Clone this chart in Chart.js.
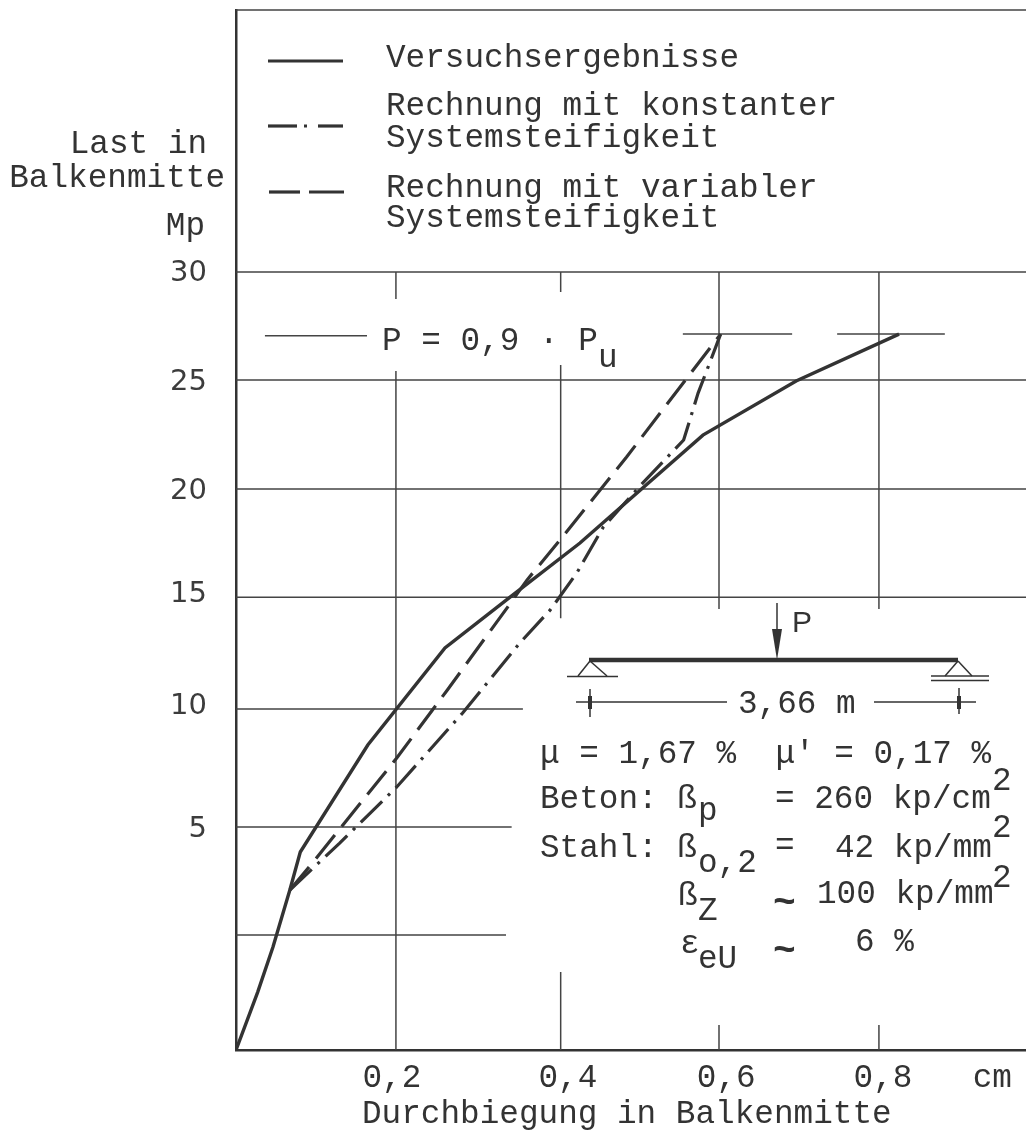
<!DOCTYPE html>
<html>
<head>
<meta charset="utf-8">
<style>html,body{margin:0;padding:0;background:#fff}canvas{display:block}</style>
<script src="https://cdn.jsdelivr.net/npm/chart.js@4/dist/chart.umd.js"></script>
</head>
<body>
<canvas id="c" width="1026" height="1134"></canvas>
<script>
// Measured curves: deflection (cm), load on the axis scale (Mp)
const testX = [0, 0.027, 0.046, 0.067, 0.080, 0.164, 0.260, 0.341, 0.428, 0.581, 0.697, 0.825];
const testY = [-5.2, -2.58, -0.54, 2.04, 3.76, 8.60, 12.99, 15.29, 17.74, 22.62, 25.07, 27.19];
const constX = [0.067, 0.129, 0.200, 0.282, 0.353, 0.391, 0.424, 0.457, 0.506, 0.557, 0.575, 0.597, 0.603];
const constY = [2.04, 4.16, 6.70, 10.05, 13.21, 14.71, 16.38, 18.46, 20.45, 22.40, 24.52, 26.61, 27.19];
const varX = [0.067, 0.095, 0.200, 0.263, 0.338, 0.362, 0.403, 0.486, 0.603];
const varY = [2.04, 3.26, 8.01, 11.09, 14.84, 16.06, 17.87, 21.63, 27.19];

// Axis ranges and labels
const xRange = [0, 0.983];
const yRange = [-5.2, 41.855];
const yTickValues = [4.80, 10.36, 15.43, 20.09, 24.98, 29.95];
const yTickLabels = ['5', '10', '15', '20', '25', '30'];
const xTickValues = [0.194, 0.413, 0.610, 0.805, 0.941];
const xTickLabels = ['0,2', '0,4', '0,6', '0,8', 'cm'];

// Hand-ruled grid lines of the drawing: [value, from, to]
const hRules = [[41.855,0,0.983],[30,0,0.983],[25.11,0,0.983],[20.18,0,0.983],[15.29,0,0.983],[10.23,0,0.357],[4.89,0,0.343],[0,0,0.336]];
const vRules = [[0.199,30,28.78],[0.199,25.52,-5.2],[0.404,30,29.1],[0.404,25.79,14.34],[0.404,-1.67,-5.2],[0.601,30,14.75],[0.601,-4.07,-5.2],[0.800,30,14.75],[0.800,-4.07,-5.2]];
const pRules = [[27.12,0.036,0.163],[27.19,0.556,0.692],[27.19,0.748,0.882]];

const INK = '#333333';
const FONT = 'Liberation Mono';
const zip = (xs, ys) => xs.map((x, i) => ({x, y: ys[i]}));
const gap = {x: 0, y: null};
const hPts = r => r.flatMap(([v, a, b]) => [{x: a, y: v}, {x: b, y: v}, gap]);
const vPts = r => r.flatMap(([v, a, b]) => [{x: v, y: a}, {x: v, y: b}, gap]);

const annotations = {
  id: 'annotations',
  afterDraw(chart) {
    const c = chart.ctx;
    c.save();
    c.fillStyle = INK; c.strokeStyle = INK; c.textBaseline = 'alphabetic'; c.lineCap = 'butt';
    const T = (s, x, y, size = 32.7, fam = FONT, align = 'left') => {
      c.font = size + 'px "' + fam + '"'; c.textAlign = align; c.fillText(s, x, y);
    };
    const L = (x1, y1, x2, y2, w = 1.5, dash = []) => {
      c.lineWidth = w; c.setLineDash(dash); c.beginPath(); c.moveTo(x1, y1); c.lineTo(x2, y2); c.stroke(); c.setLineDash([]);
    };
    const Tilde = (x, y) => { c.font = 'bold 38px "' + FONT + '"'; c.textAlign = 'left'; c.fillText('~', x, y); };
    // legend
    L(268, 61, 343, 61, 3.2);
    L(268, 126, 297, 126, 3.2); L(304, 126, 307, 126, 3); L(318, 126, 343, 126, 3.2);
    L(269, 192, 300, 192, 3.2); L(309, 192, 344, 192, 3.2);
    T('Versuchsergebnisse', 386, 67);
    T('Rechnung mit konstanter', 386, 115);
    T('Systemsteifigkeit', 386, 147);
    T('Rechnung mit variabler', 386, 197);
    T('Systemsteifigkeit', 386, 227);
    // axis heading
    T('Last in', 207, 153, 32.7, FONT, 'right');
    T('Balkenmitte', 225, 187, 32.7, FONT, 'right');
    T('Mp', 205, 235, 32.7, FONT, 'right');
    T('Durchbiegung in Balkenmitte', 362, 1123);
    // load marker
    T('P = 0,9 · P', 382, 350);
    T('u', 598, 367);
    // beam
    L(589, 660, 958, 660, 4.5);
    L(777, 603, 777, 632, 1.5);
    c.beginPath(); c.moveTo(772, 629); c.lineTo(782, 629); c.lineTo(777, 660); c.closePath(); c.fill();
    T('P', 792, 632, 30, 'Liberation Sans');
    L(590, 661, 578, 676); L(590, 661, 607, 676); L(567, 676.5, 618, 676.5);
    L(958, 661, 945, 676); L(958, 661, 972, 676); L(931, 676, 989, 676); L(931, 680.5, 989, 680.5);
    L(576, 702, 727, 702); L(874, 702, 976, 702);
    L(590, 689, 590, 717); L(959, 688, 959, 714);
    L(590, 696, 590, 709, 4); L(959, 696, 959, 709, 4);
    T('3,66 m', 738, 713);
    // properties
    T('μ = 1,67 %  μ\' = 0,17 %', 540, 763);
    T('Beton: ß', 540, 808); T('p', 698, 820); T('= 260 kp/cm', 775, 808); T('2', 992, 790);
    T('Stahl: ß', 540, 857); T('o,2', 698, 872); T('=', 775, 855); T('42 kp/mm', 835, 857); T('2', 992, 837);
    T('ß', 678, 905); T('Z', 698, 920); Tilde(773, 914); T('100 kp/mm', 817, 903); T('2', 992, 887);
    T('ε', 680, 953); T('eU', 698, 968); Tilde(773, 962); T('6 %', 855, 951);
    c.restore();
  }
};

new Chart(document.getElementById('c'), {
  type: 'scatter',
  plugins: [annotations],
  data: {
    datasets: [
      {label: 'Raster', data: [...hPts(hRules), ...vPts(vRules)], showLine: true, spanGaps: false, pointRadius: 0, borderColor: '#444444', borderWidth: 1.5, clip: false, order: 3},
      {label: 'P = 0,9 · Pu', data: hPts(pRules), showLine: true, spanGaps: false, pointRadius: 0, borderColor: '#444444', borderWidth: 1.5, order: 3},
      {label: 'Versuchsergebnisse', data: zip(testX, testY), showLine: true, pointRadius: 0, borderColor: INK, borderWidth: 3.4, order: 1},
      {label: 'Rechnung mit konstanter Systemsteifigkeit', data: zip(constX, constY), showLine: true, pointRadius: 0, borderColor: INK, borderWidth: 3.2, borderDash: [30, 8, 3, 8], order: 2},
      {label: 'Rechnung mit variabler Systemsteifigkeit', data: zip(varX, varY), showLine: true, pointRadius: 0, borderColor: INK, borderWidth: 3.2, borderDash: [30, 11], order: 2}
    ]
  },
  options: {
    responsive: false,
    animation: false,
    devicePixelRatio: 1,
    layout: {autoPadding: false, padding: {top: 10, left: 0, right: 0, bottom: 0}},
    plugins: {legend: {display: false}, title: {display: false}, tooltip: {enabled: false}},
    scales: {
      x: {
        type: 'linear', min: xRange[0], max: xRange[1],
        grid: {display: false, drawTicks: false},
        border: {display: true, color: INK, width: 2.5},
        afterFit: s => { s.height = 84; },
        afterBuildTicks: s => { s.ticks = xTickValues.map(value => ({value})); },
        ticks: {
          autoSkip: false, maxRotation: 0, color: INK, padding: 9,
          font: {family: FONT, size: 32.7},
          callback: (v, i) => xTickLabels[i]
        }
      },
      y: {
        type: 'linear', min: yRange[0], max: yRange[1],
        grid: {display: true, drawOnChartArea: false, drawTicks: true, tickLength: 29, tickColor: 'transparent'},
        border: {display: true, color: INK, width: 2.5},
        afterFit: s => { s.width = 236; },
        afterBuildTicks: s => { s.ticks = yTickValues.map(value => ({value})); },
        ticks: {
          autoSkip: false, color: '#3c3c3c', padding: 0,
          font: {family: 'DejaVu Sans', size: 29, lineHeight: 0.6},
          callback: (v, i) => yTickLabels[i]
        }
      }
    }
  }
});
</script>
</body>
</html>
